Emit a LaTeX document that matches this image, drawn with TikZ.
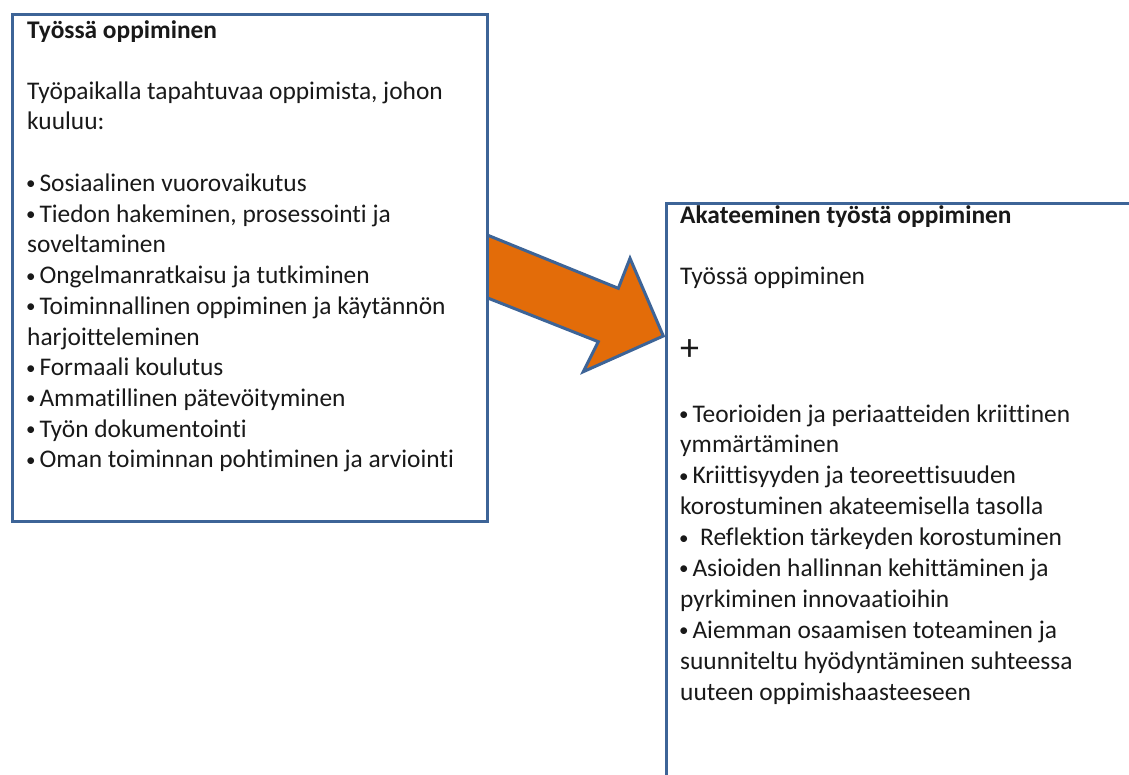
\documentclass[tikz,border=0pt]{standalone}
\usepackage{fontspec}
\setmainfont{Carlito}[Ligatures=NoCommon]
\definecolor{boxblue}{HTML}{3D6497}
\definecolor{arroworange}{HTML}{E36C09}
% small list bullet with the gap that follows it
\newcommand\bul{\makebox[12.3pt][l]{\hspace{-1pt}\raisebox{1.6pt}{\fontsize{19}{19}\selectfont •}}}
\begin{document}
\begin{tikzpicture}[x=1pt,y=-1pt,
  panel/.style={draw=boxblue,line width=3pt,fill=white,inner sep=0pt},
  txt/.style={anchor=base west,inner sep=0pt,font=\fontsize{25.4}{30}\selectfont,text=black!90},
  head/.style={txt,font=\fontsize{25.4}{30}\selectfont\bfseries}]
\useasboundingbox (0,0) rectangle (1129,774);
\clip (0,0) rectangle (1129,774);

% block arrow, its tail hidden behind the left panel
\coordinate (tailtop) at (470,228);
\coordinate (tailbot) at (470,291);
\draw[boxblue,line width=3pt,fill=arroworange,line join=miter]
  (tailtop) -- (618.3,288.3) -- (630,258.3) -- (663.3,336)
  -- (583.3,371.7) -- (598.3,341.7) -- (tailbot) -- cycle;

% panels
\node[panel,anchor=north west,minimum width=475.5pt,minimum height=507.5pt] (lbox) at (10.5,12.5) {};
\node[panel,anchor=north west,minimum width=500pt,minimum height=620pt] (rbox) at (664.5,201.5) {};

% left panel text
\node[head] (ltitle) at (27,38) {Työssä oppiminen};
\node[txt] (lintro1) at (27,99) {Työpaikalla tapahtuvaa oppimista, johon};
\node[txt] (lintro2) at (27,129.5) {kuuluu:};
\foreach \t [count=\i from 0] in {
  {\bul Sosiaalinen vuorovaikutus},
  {\bul Tiedon hakeminen, prosessointi ja},
  {soveltaminen},
  {\bul Ongelmanratkaisu ja tutkiminen},
  {\bul Toiminnallinen oppiminen ja käytännön},
  {harjoitteleminen},
  {\bul Formaali koulutus},
  {\bul Ammatillinen pätevöityminen},
  {\bul Työn dokumentointi},
  {\bul Oman toiminnan pohtiminen ja arviointi}}
  \node[txt] (litem\i) at (27,191.5+30.7*\i) {\t};

% right panel text
\node[head] (rtitle) at (680,223) {Akateeminen työstä oppiminen};
\node[txt] (rintro) at (680,284) {Työssä oppiminen};
\node[txt,font=\fontsize{38}{40}\selectfont] (plus) at (680,360) {+};
\foreach \t [count=\i from 0] in {
  {\bul Teorioiden ja periaatteiden kriittinen},
  {ymmärtäminen},
  {\bul Kriittisyyden ja teoreettisuuden},
  {korostuminen akateemisella tasolla},
  {\bul\hspace{7.7pt}Reflektion tärkeyden korostuminen},
  {\bul Asioiden hallinnan kehittäminen ja},
  {pyrkiminen innovaatioihin},
  {\bul Aiemman osaamisen toteaminen ja},
  {suunniteltu hyödyntäminen suhteessa},
  {uuteen oppimishaasteeseen}}
  \node[txt] (ritem\i) at (680,422+30.9*\i) {\t};
\end{tikzpicture}
\end{document}
